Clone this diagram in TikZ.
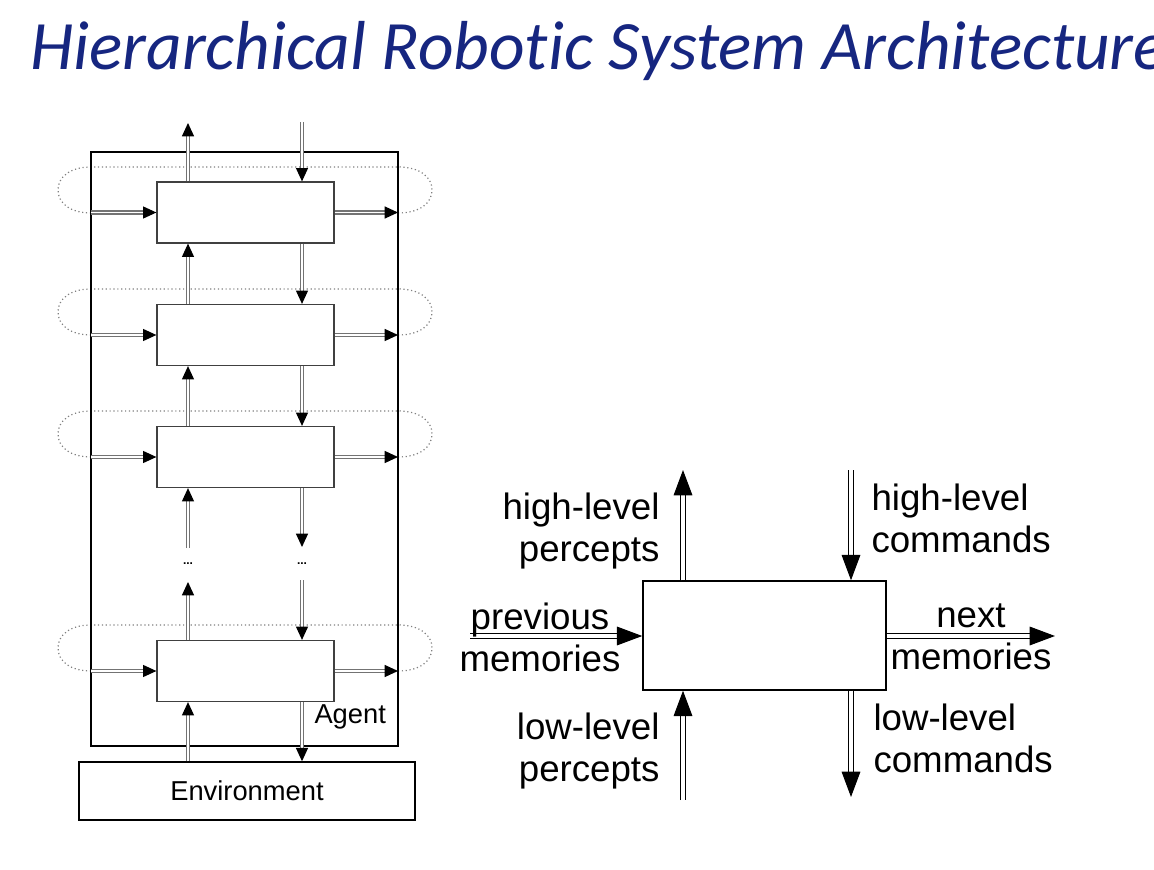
\documentclass[tikz,border=0pt]{standalone}
\usepackage{fontspec}
\setmainfont{Liberation Sans}
\newfontfamily\titlefont[Ligatures=NoCommon]{Carlito}
\usetikzlibrary{arrows.meta}
\definecolor{titleblue}{RGB}{22,38,128}
\tikzset{every picture/.style={line width=0.75pt}}

\begin{document}
\begin{tikzpicture}[x=0.75pt,y=0.75pt,yscale=-1,xscale=1,
  module/.style={draw=black!75, fill=white, line width=0.9pt, minimum width=132.75pt, minimum height=45.75pt, inner sep=0pt},
  loopline/.style={draw=black!50, dotted, line width=0.9pt},
  flow/.style={draw=black!55, double=white, double distance=1.4pt, line width=0.9pt, -{Triangle[length=10pt,width=9pt,color=black]}},
  bigflow/.style={draw=black, double=white, double distance=2.4pt, line width=0.75pt, -{Triangle[length=19pt,width=14pt,color=black]}},
  lbl/.style={font=\fontsize{27.5}{31.5}\selectfont, inner sep=0pt}]
\useasboundingbox (0,0) rectangle (1154,870);

% Title
\node [anchor=base west, inner sep=0pt, text=titleblue, font=\titlefont\itshape\fontsize{52}{60}\selectfont] (title) at (30,70) {Hierarchical Robot\kern0pt ic System Architecture};

%Dotted loops of the layers
\foreach \c in {213,335,457,671}{
  \draw [loopline] (91,\c) .. controls (70,\c) and (58,\c-10) .. (58,\c-23) .. controls (58,\c-36) and (70,\c-46) .. (91,\c-46) -- (398,\c-46) .. controls (420,\c-46) and (432,\c-36) .. (432,\c-23) .. controls (432,\c-10) and (420,\c) .. (398,\c) ;
}

%Agent box
\draw [line width=1.4pt] (91,152) coordinate (agnw) rectangle (398,746) coordinate (agse) ;
\coordinate (upx) at (188,0) ;
\coordinate (dnx) at (302,0) ;

%Layers
\node [module] (m1) at (245.5,212.5) {};
\node [module] (m2) at (245.5,335) {};
\node [module] (m3) at (245.5,457) {};
\node [module] (m4) at (245.5,671) {};
%Environment
\node [draw, line width=1.1pt, fill=white, minimum width=252pt, minimum height=43.5pt, inner sep=0pt, font=\fontsize{20.5}{23}\selectfont] (env) at (247,791) {Environment};
% Text Node
\node [anchor=west, inner sep=0pt, font=\fontsize{20.5}{23}\selectfont] (agent) at (314,717) {Agent};
% Text Node
\node [inner sep=0pt, font=\small\bfseries] (dotsup) at (188,564) {...};
\node [inner sep=0pt, font=\small\bfseries] (dotsdn) at (302,564) {...};

%Free ends
\coordinate (topup) at (188,123) ;
\coordinate (topdn) at (302,122) ;
\coordinate (gapup1) at (188,548) ;
\coordinate (gapdn1) at (302,547) ;
\coordinate (gapup2) at (188,582) ;
\coordinate (gapdn2) at (302,580) ;

%Vertical flows
\draw [flow] (m1.north -| upx) -- (topup) ;
\draw [flow] (topdn) -- (m1.north -| dnx) ;
\draw [flow] (m2.north -| upx) -- (m1.south -| upx) ;
\draw [flow] (m1.south -| dnx) -- (m2.north -| dnx) ;
\draw [flow] (m3.north -| upx) -- (m2.south -| upx) ;
\draw [flow] (m2.south -| dnx) -- (m3.north -| dnx) ;
\draw [flow] (gapup1) -- (m3.south -| upx) ;
\draw [flow] (m3.south -| dnx) -- (gapdn1) ;
\draw [flow] (m4.north -| upx) -- (gapup2) ;
\draw [flow] (gapdn2) -- (m4.north -| dnx) ;
\draw [flow] (env.north -| upx) -- (m4.south -| upx) ;
\draw [flow] (m4.south -| dnx) -- (env.north -| dnx) ;

%Memory flows
\foreach \m in {m1,m2,m3,m4}{
  \draw [flow] (agnw |- \m) -- (\m.west) ;
  \draw [flow] (\m.east) -- (agse |- \m) ;
}

%Single layer
\node [draw, line width=1.1pt, minimum width=182.25pt, minimum height=81.75pt, inner sep=0pt] (layer) at (764.5,635.5) {};
\coordinate (hpx) at (683,0) ;
\coordinate (hcx) at (851,0) ;
\coordinate (hpend) at (683,470) ;
\coordinate (hcend) at (851,470) ;
\coordinate (pmend) at (470,636) ;
\coordinate (nmend) at (1055,636) ;
\coordinate (lpend) at (683,800) ;
\coordinate (lcend) at (851,797) ;

\draw [bigflow] (layer.north -| hpx) -- (hpend) ;
\draw [bigflow] (hcend) -- (layer.north -| hcx) ;
\draw [bigflow] (pmend) -- (layer.west |- pmend) ;
\draw [bigflow] (layer.east |- nmend) -- (nmend) ;
\draw [bigflow] (lpend) -- (layer.south -| hpx) ;
\draw [bigflow] (layer.south -| hcx) -- (lcend) ;

% Text Node
\node [lbl, anchor=east, align=right] (hplbl) at (660,531) {high-level\\percepts};
% Text Node
\node [lbl, anchor=west, align=left] (hclbl) at (871,518) {high-level\\commands};
% Text Node
\node [lbl, align=center] (pmlbl) at (540,637) {previous\\memories};
% Text Node
\node [lbl, align=center] (nmlbl) at (971,637) {next\\memories};
% Text Node
\node [lbl, anchor=east, align=right] (lplbl) at (660,751) {low-level\\percepts};
% Text Node
\node [lbl, anchor=west, align=left] (lclbl) at (873,738) {low-level\\commands};
\end{tikzpicture}
\end{document}
